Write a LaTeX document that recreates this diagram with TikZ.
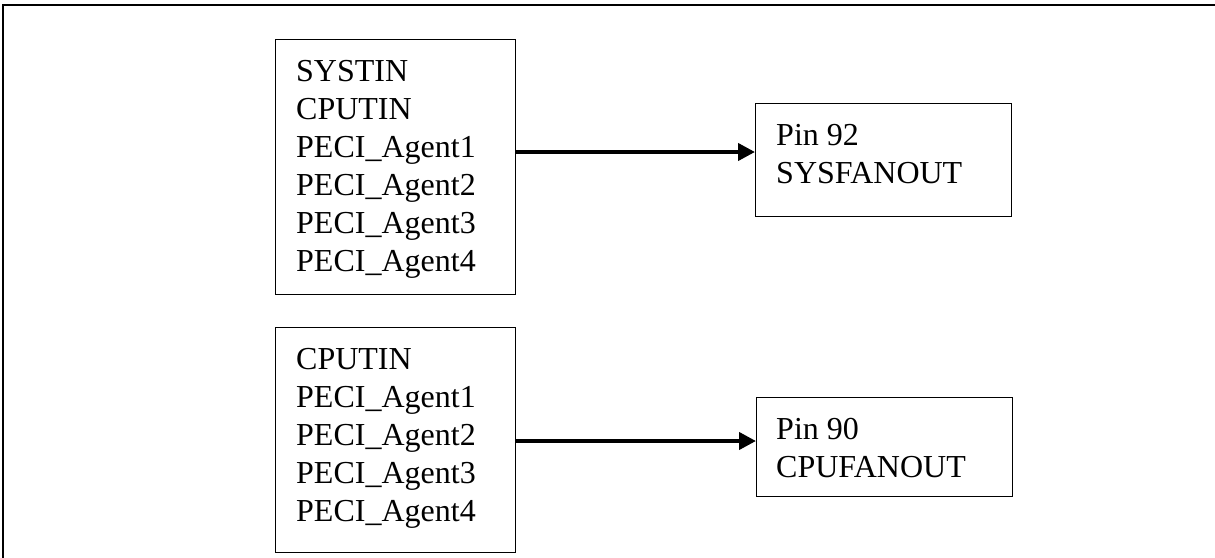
\documentclass[tikz,border=0pt]{standalone}
\usepackage{fontspec}
\setmainfont{Liberation Serif}
\usetikzlibrary{arrows.meta}
\begin{document}
\begin{tikzpicture}[x=1pt,y=-1pt,
  box/.style={draw,line width=1.4pt,inner sep=0pt,anchor=north west},
  txt/.style={anchor=base west,inner sep=0pt,font=\fontsize{32}{38}\selectfont},
  arr/.style={line width=4pt,-{Triangle[length=17pt,width=17pt]}},
  frame/.style={line width=2.6pt}]
\useasboundingbox (0,0) rectangle (1215,557);
% frame
\coordinate (fb) at (3,560);
\coordinate (ftl) at (3,5);
\coordinate (fr) at (1218,5);
\draw[frame] (fb) -- (ftl) -- (fr);
% boxes
\node[box,minimum width=240pt,minimum height=255pt] (in1) at (275,39) {};
\node[box,minimum width=240pt,minimum height=225pt] (in2) at (275,327) {};
\node[box,minimum width=256pt,minimum height=113pt] (p92) at (755,103) {};
\node[box,minimum width=256pt,minimum height=99pt] (p90) at (756,397) {};
% texts box 1
\node[txt] (t11) at (296,81) {SYSTIN};
\node[txt] (t12) at (296,119) {CPUTIN};
\node[txt] (t13) at (296,157) {PECI\_Agent1};
\node[txt] (t14) at (296,195) {PECI\_Agent2};
\node[txt] (t15) at (296,233) {PECI\_Agent3};
\node[txt] (t16) at (296,271) {PECI\_Agent4};
% texts box 2
\node[txt] (t21) at (296,369) {CPUTIN};
\node[txt] (t22) at (296,407) {PECI\_Agent1};
\node[txt] (t23) at (296,445) {PECI\_Agent2};
\node[txt] (t24) at (296,483) {PECI\_Agent3};
\node[txt] (t25) at (296,521) {PECI\_Agent4};
% pin boxes
\node[txt] (t31) at (776,145) {Pin 92};
\node[txt] (t32) at (776,183) {SYSFANOUT};
\node[txt] (t41) at (776,439) {Pin 90};
\node[txt] (t42) at (776,477) {CPUFANOUT};
% arrows
\coordinate (a1) at (0,152);
\coordinate (a2) at (0,441);
\draw[arr] (in1.east |- a1) -- (p92.west |- a1);
\draw[arr] (in2.east |- a2) -- (p90.west |- a2);
\end{tikzpicture}
\end{document}
